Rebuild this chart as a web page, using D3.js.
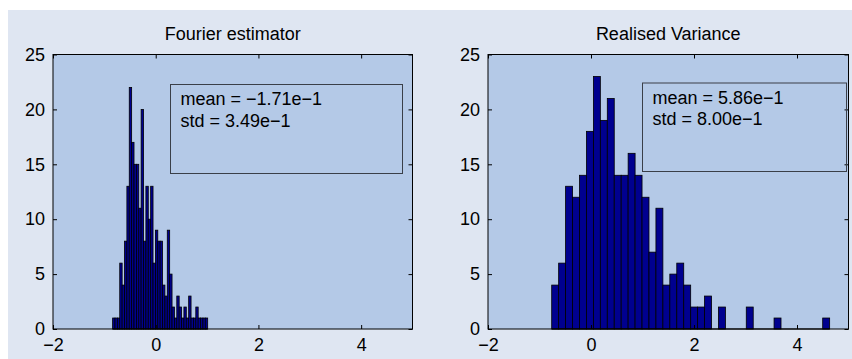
<html>
<head>
<style>
  body { margin: 0; background: white; }
  text { font-family: "Liberation Sans", Arial, sans-serif; fill: black; }
</style>
</head>
<body>
<svg id="svg" width="852" height="359"></svg>
<script src="https://cdn.jsdelivr.net/npm/d3@7"></script>
<script>

// counts per bin (40 bins each)
var fourierCounts = [1,1,1,6,4,8,13,22,17,15,15,11,20,8,13,10,13,6,9,8,
                     8,4,3,9,5,2,1,3,2,1,2,1,3,1,1,2,1,1,1,1];
var fourierRange = [-0.839, 1.012];
var rvCounts = [4,6,13,12,14,18,23,19,21,14,14,16,14,12,7,11,4,5,6,4,
                2,2,3,0,2,0,0,0,2,0,0,0,1,0,0,0,0,0,0,1];
var rvRange = [-0.763, 4.634];

var titles = ["Fourier estimator", "Realised Variance"];
var stats = [["mean = \u22121.71e\u22121", "std = 3.49e\u22121"],
             ["mean = 5.86e\u22121", "std = 8.00e\u22121"]];
var xTicks = [-2, 0, 2, 4];
var yTicks = [0, 5, 10, 15, 20, 25];

var panels = [
  {counts: fourierCounts, range: fourierRange, title: titles[0], stats: stats[0],
   x0: 53, x1: 412.5, box: [170.5, 84.5, 402.5, 173.5]},
  {counts: rvCounts, range: rvRange, title: titles[1], stats: stats[1],
   x0: 488, x1: 848.5, box: [642.5, 83, 846.5, 171.5]}
];
var y0 = 54.5, y1 = 329;

var svg = d3.select("#svg");
svg.append("rect").attr("x", 8).attr("y", 10).attr("width", 844).attr("height", 349)
  .style("fill", "#dfe6f2");

panels.forEach(p => {
  var x = d3.scaleLinear().domain([-2, 5]).range([p.x0, p.x1]);
  var y = d3.scaleLinear().domain([0, 25]).range([y1, y0]);
  var g = svg.append("g");

  g.append("rect").attr("x", p.x0).attr("y", y0)
    .attr("width", p.x1 - p.x0).attr("height", y1 - y0)
    .style("fill", "#b4c9e7");

  var w = (p.range[1] - p.range[0]) / p.counts.length;
  var bins = p.counts.map((c, i) => ({a: p.range[0] + i * w, b: p.range[0] + (i + 1) * w, c: c}));

  g.selectAll("rect.bar").data(bins.filter(d => d.c > 0))
    .join("rect").classed("bar", true)
      .attr("x", d => x(d.a)).attr("width", d => x(d.b) - x(d.a))
      .attr("y", d => y(d.c)).attr("height", d => y(0) - y(d.c))
      .style("fill", "#00008f").style("stroke", "black").style("stroke-width", 0.8);

  // zero-count bins still show a flat line on the baseline
  g.append("line").attr("x1", x(p.range[0])).attr("x2", x(p.range[1]))
    .attr("y1", y(0)).attr("y2", y(0)).style("stroke", "black");

  // axes box with inward ticks on all sides
  var tl = 4;
  g.append("g").attr("transform", "translate(0," + y1 + ")")
    .call(d3.axisBottom(x).tickValues(xTicks).tickSizeInner(-tl).tickSizeOuter(0)
      .tickFormat(d => d < 0 ? "\u2212" + Math.abs(d) : d))
    .call(s => s.selectAll("text").attr("dy", "0.55em").attr("y", 12).style("font-size", "18px"));
  g.append("g").attr("transform", "translate(0," + y0 + ")")
    .call(d3.axisTop(x).tickValues(xTicks).tickSizeInner(-tl).tickSizeOuter(0).tickFormat(""));
  g.append("g").attr("transform", "translate(" + p.x0 + ",0)")
    .call(d3.axisLeft(y).tickValues(yTicks).tickSizeInner(-tl).tickSizeOuter(0))
    .call(s => s.selectAll("text").attr("x", -8).style("font-size", "18px"));
  g.append("g").attr("transform", "translate(" + p.x1 + ",0)")
    .call(d3.axisRight(y).tickValues(yTicks).tickSizeInner(-tl).tickSizeOuter(0).tickFormat(""));
  g.selectAll(".domain").remove();
  g.selectAll(".tick line").style("stroke", "black");
  g.selectAll(".tick text").style("fill", "black").attr("font-family", null);
  g.append("rect").attr("x", p.x0).attr("y", y0)
    .attr("width", p.x1 - p.x0).attr("height", y1 - y0)
    .style("fill", "none").style("stroke", "black");

  g.append("text").text(p.title)
    .attr("x", (p.x0 + p.x1) / 2).attr("y", 39.5)
    .attr("text-anchor", "middle").style("font-size", "18px");

  var b = p.box;
  g.append("rect").attr("x", b[0]).attr("y", b[1])
    .attr("width", b[2] - b[0]).attr("height", b[3] - b[1])
    .style("fill", "none").style("stroke", "#3a3f48");
  g.selectAll("text.st").data(p.stats)
    .join("text").classed("st", true)
      .text(d => d)
      .attr("x", b[0] + 10).attr("y", (d, i) => b[1] + 20.5 + i * 21.5)
      .style("font-size", "18px");
});

</script>
</body>
</html>
